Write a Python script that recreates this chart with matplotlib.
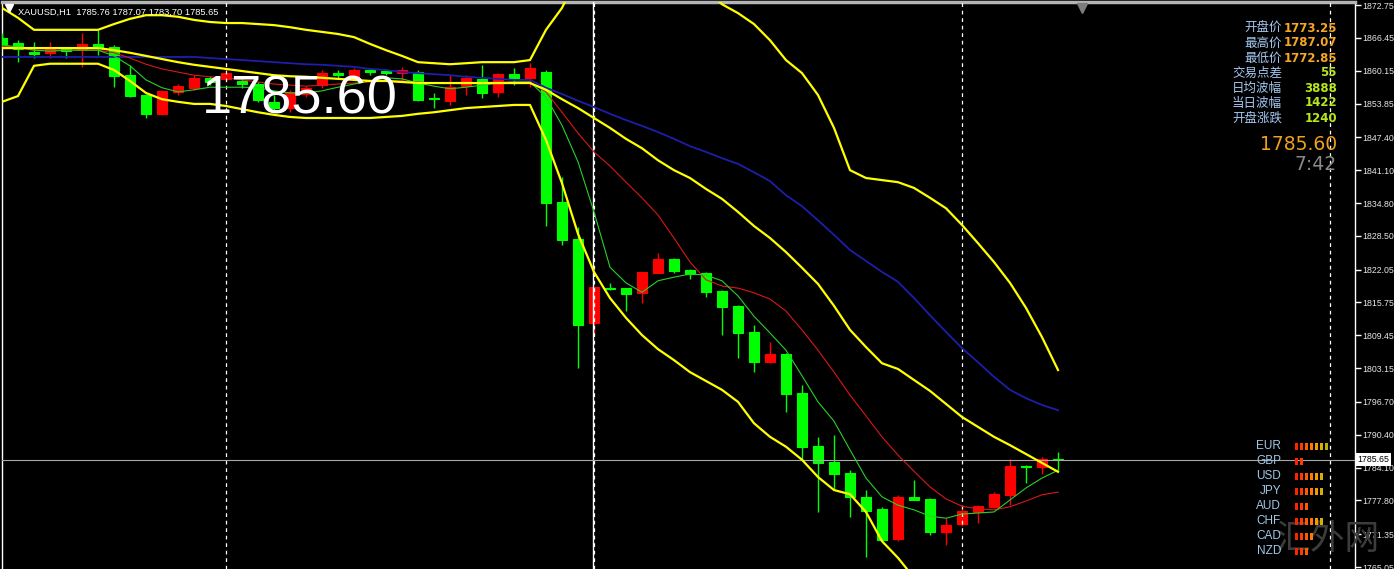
import matplotlib
matplotlib.use('Agg')
import matplotlib.pyplot as plt
import matplotlib.transforms as mtransforms
from matplotlib.patches import Rectangle
from matplotlib.lines import Line2D
import numpy as np

W, H = 1394, 569

# XAUUSD H1 bars, oldest first
opens = [1866.4, 1865.5, 1863.7, 1863.6, 1864.5, 1864.1, 1865.3, 1864.7, 1859.3, 1855.5,
         1851.9, 1856.1, 1856.9, 1858.8, 1858.6, 1858.2, 1857.6, 1854.2, 1853.0, 1855.7,
         1857.4, 1859.7, 1859.0, 1860.3, 1860.1, 1859.7, 1859.9, 1854.9, 1854.4, 1857.2,
         1858.6, 1856.1, 1859.5, 1858.8, 1859.9, 1835.0, 1827.9, 1811.8, 1818.5, 1818.5,
         1817.6, 1821.4, 1824.1, 1822.0, 1821.4, 1817.9, 1815.1, 1810.1, 1804.3, 1805.9,
         1798.4, 1788.2, 1785.2, 1783.1, 1778.5, 1776.2, 1770.4, 1778.5, 1778.1, 1771.8,
         1773.25, 1775.6, 1776.6, 1778.9, 1784.4, 1784.2, 1785.76]
highs = [1867.4, 1866.0, 1865.7, 1865.7, 1864.7, 1867.4, 1868.0, 1865.1, 1861.3, 1855.7,
         1856.5, 1857.6, 1859.3, 1859.2, 1860.7, 1858.8, 1858.0, 1855.5, 1856.5, 1857.2,
         1860.3, 1860.3, 1860.7, 1860.7, 1860.5, 1860.9, 1860.3, 1855.9, 1859.3, 1859.3,
         1861.3, 1859.7, 1860.7, 1861.6, 1860.3, 1839.8, 1830.2, 1818.8, 1819.5, 1818.6,
         1821.6, 1825.2, 1824.3, 1822.2, 1821.6, 1818.1, 1815.3, 1811.4, 1808.2, 1806.1,
         1799.9, 1790.0, 1790.3, 1783.6, 1779.8, 1776.5, 1778.9, 1781.7, 1778.3, 1774.4,
         1776.9, 1776.9, 1779.4, 1785.8, 1784.6, 1786.1, 1787.07]
lows = [1864.5, 1861.8, 1862.6, 1862.6, 1862.6, 1860.9, 1863.2, 1857.0, 1855.1, 1851.1,
        1851.7, 1855.5, 1856.5, 1857.4, 1858.0, 1856.9, 1854.2, 1852.6, 1852.3, 1855.1,
        1856.9, 1858.8, 1858.4, 1859.3, 1859.3, 1858.0, 1854.4, 1853.0, 1853.6, 1855.5,
        1854.9, 1855.1, 1857.4, 1857.0, 1830.4, 1826.8, 1803.2, 1809.5, 1818.1, 1814.1,
        1815.6, 1821.4, 1821.4, 1820.2, 1816.8, 1809.5, 1805.1, 1802.4, 1804.1, 1794.8,
        1785.6, 1775.6, 1779.8, 1774.6, 1767.0, 1770.0, 1770.0, 1777.9, 1771.2, 1769.3,
        1772.85, 1773.5, 1776.4, 1776.9, 1781.2, 1782.9, 1783.70]
closes = [1865.3, 1864.3, 1863.4, 1864.5, 1863.9, 1865.3, 1864.7, 1859.2, 1855.3, 1851.9,
          1856.3, 1857.2, 1858.8, 1858.0, 1859.7, 1857.6, 1854.6, 1853.0, 1856.1, 1856.9,
          1859.7, 1859.3, 1860.3, 1859.9, 1859.7, 1860.3, 1854.6, 1854.7, 1857.0, 1858.8,
          1855.9, 1859.5, 1858.8, 1860.7, 1834.8, 1827.7, 1811.4, 1818.7, 1818.3, 1817.4,
          1821.6, 1824.1, 1821.8, 1821.2, 1817.8, 1814.9, 1809.9, 1804.3, 1805.9, 1798.2,
          1788.1, 1785.0, 1782.9, 1778.5, 1775.8, 1770.2, 1778.5, 1777.9, 1771.8, 1773.1,
          1775.8, 1776.7, 1779.0, 1784.4, 1784.2, 1785.8, 1785.65]

# moving averages
ma_fast = [1865.1, 1864.7, 1864.1, 1863.9, 1864.1, 1864.1, 1864.1, 1863.0, 1861.1, 1858.4,
           1856.9, 1856.1, 1856.5, 1857.0, 1857.0, 1857.0, 1856.9, 1856.3, 1855.9, 1855.9,
           1856.3, 1857.0, 1857.6, 1858.2, 1858.8, 1858.6, 1857.8, 1857.2, 1856.7, 1857.0,
           1857.4, 1857.8, 1858.0, 1858.0, 1855.1, 1849.7, 1842.7, 1833.1, 1822.5, 1819.5,
           1817.7, 1819.9, 1820.6, 1821.2, 1821.0, 1819.9, 1817.0, 1813.1, 1809.9, 1806.6,
           1801.7, 1796.7, 1793.0, 1787.5, 1782.1, 1778.5, 1776.9, 1776.0, 1774.8, 1774.4,
           1775.2, 1775.4, 1775.6, 1777.9, 1780.2, 1782.1, 1783.6]
ma_mid = [1864.9, 1864.5, 1864.1, 1864.1, 1864.1, 1864.1, 1864.1, 1863.6, 1862.6, 1861.4,
          1860.5, 1859.9, 1859.3, 1859.0, 1858.8, 1858.4, 1858.0, 1857.6, 1857.4, 1857.2,
          1857.4, 1857.6, 1857.8, 1858.0, 1858.2, 1858.2, 1858.0, 1857.8, 1857.8, 1857.8,
          1857.8, 1858.0, 1858.0, 1858.0, 1856.1, 1852.2, 1848.2, 1844.6, 1841.9, 1838.8,
          1835.8, 1832.5, 1828.1, 1823.5, 1820.1, 1818.9, 1818.5, 1817.6, 1816.4, 1814.1,
          1810.5, 1806.6, 1802.4, 1798.0, 1794.0, 1790.0, 1786.5, 1783.4, 1780.4, 1778.1,
          1776.7, 1776.2, 1776.0, 1776.6, 1777.7, 1778.9, 1779.4]
ma_slow = [1862.8, 1862.8, 1862.8, 1862.8, 1862.8, 1862.8, 1862.8, 1862.8, 1862.8, 1862.8,
           1862.8, 1862.8, 1862.8, 1862.6, 1862.4, 1862.2, 1862.0, 1861.8, 1861.6, 1861.4,
           1861.3, 1861.1, 1860.9, 1860.5, 1860.3, 1859.9, 1859.7, 1859.5, 1859.3, 1859.0,
           1858.8, 1858.6, 1858.4, 1858.4, 1856.9, 1855.7, 1854.4, 1853.2, 1851.9, 1850.7,
           1849.6, 1848.4, 1847.1, 1845.7, 1844.6, 1843.4, 1842.3, 1840.7, 1839.0, 1836.3,
           1834.2, 1831.5, 1828.7, 1825.8, 1823.7, 1821.6, 1819.7, 1816.6, 1813.3, 1810.1,
           1807.0, 1804.3, 1801.5, 1799.0, 1797.4, 1796.1, 1795.1]

# Bollinger bands
bb_upper = [1872.2, 1870.3, 1868.0, 1868.0, 1868.0, 1868.0, 1868.0, 1869.1, 1870.1, 1870.8,
            1870.8, 1870.5, 1869.9, 1869.5, 1869.3, 1869.3, 1869.1, 1868.9, 1868.5, 1868.0,
            1867.6, 1867.2, 1866.6, 1865.3, 1864.1, 1863.0, 1861.8, 1861.6, 1861.4, 1861.6,
            1861.8, 1861.8, 1861.8, 1862.2, 1868.0, 1872.2, 1878.5, 1882.3, 1884.2, 1885.2,
            1885.2, 1884.2, 1881.4, 1878.5, 1875.6, 1872.9, 1871.2, 1869.1, 1866.0, 1862.2,
            1859.7, 1855.5, 1849.2, 1841.1, 1839.6, 1839.2, 1838.8, 1837.7, 1835.8, 1833.8,
            1830.6, 1827.1, 1823.5, 1819.5, 1814.7, 1809.1, 1802.8]
bb_middle = [1864.5, 1864.5, 1864.5, 1864.5, 1864.5, 1864.5, 1864.5, 1864.1, 1863.6, 1863.0,
             1862.4, 1861.8, 1861.3, 1860.9, 1860.5, 1860.1, 1859.7, 1859.3, 1859.1, 1859.0,
             1858.8, 1858.6, 1858.4, 1858.2, 1858.2, 1858.0, 1857.8, 1857.8, 1857.8, 1857.8,
             1857.8, 1857.8, 1857.8, 1857.8, 1856.5, 1854.7, 1853.0, 1851.1, 1849.2, 1847.1,
             1845.3, 1843.0, 1841.1, 1839.6, 1837.5, 1835.6, 1833.1, 1830.4, 1828.1, 1825.4,
             1822.4, 1819.3, 1815.1, 1810.5, 1807.2, 1804.1, 1803.0, 1800.9, 1798.8, 1796.3,
             1793.8, 1791.9, 1790.0, 1788.4, 1786.7, 1785.0, 1783.3]
bb_lower = [1854.2, 1855.3, 1861.1, 1861.5, 1861.5, 1861.5, 1861.5, 1860.3, 1858.2, 1855.9,
            1854.7, 1854.2, 1853.8, 1853.8, 1853.4, 1852.8, 1852.2, 1851.7, 1851.3, 1851.1,
            1851.1, 1851.1, 1851.1, 1851.1, 1851.3, 1851.5, 1851.9, 1852.2, 1852.6, 1853.0,
            1853.2, 1853.4, 1853.6, 1853.6, 1846.9, 1838.6, 1828.9, 1821.6, 1816.6, 1812.8,
            1809.5, 1806.8, 1804.7, 1802.4, 1800.7, 1799.0, 1796.7, 1792.6, 1790.0, 1788.1,
            1785.6, 1782.3, 1779.8, 1779.0, 1775.6, 1770.0, 1766.8, 1763.0, 1759.7, 1756.8,
            1754.9, 1753.9, 1753.9, 1754.9, 1756.8, 1758.7, 1760.6]

price_ticks = [1872.75, 1866.45, 1860.15, 1853.85, 1847.40, 1841.10, 1834.80, 1828.50, 1822.05,
               1815.75, 1809.45, 1803.15, 1796.70, 1790.40, 1784.10, 1777.80, 1771.35, 1765.05]
day_breaks = [14, 37, 60, 83]
marker_bar = 36.94
last_price = 1785.65
bid_price = '1785.60'
bar_time_left = '7:42'
title = 'XAUUSD,H1  1785.76 1787.07 1783.70 1785.65'
watermark = '汇外网'

info_labels = ['开盘价', '最高价', '最低价', '交易点差', '日均波幅', '当日波幅', '开盘涨跌']
info_values = ['1773.25', '1787.07', '1772.85', '55', '3888', '1422', '1240']

currencies = ['EUR', 'GBP', 'USD', 'JPY', 'AUD', 'CHF', 'CAD', 'NZD']
strength = [7, 2, 6, 6, 3, 6, 4, 3]
strength_colors = ['#ff2200', '#ff3c00', '#ff5a00', '#ff7800', '#f39a00', '#d8ae00', '#b0b400']

SANS = ['Liberation Sans', 'DejaVu Sans']
CJK = ['Noto Sans CJK SC', 'DejaVu Sans']


def fx(x):
    return x / W


def fy(y):
    return 1 - y / H


fig = plt.figure(figsize=(W / 100, H / 100), dpi=100, facecolor='black')
ax = fig.add_axes([1.5 / W, 0, 1353 / W, 567 / H], facecolor='black')
ax.set_xlim(-0.03, 84.53)
ax.set_ylim(1764.67, 1873.33)

for side in ['left', 'right']:
    ax.spines[side].set_color('white')
    ax.spines[side].set_linewidth(1)
ax.spines['top'].set_color('#b4b4b4')
ax.spines['top'].set_linewidth(2.5)
ax.spines['bottom'].set_visible(False)

ax.set_xticks([])
ax.yaxis.tick_right()
ax.set_yticks(price_ticks)
ax.set_yticklabels([f'{v:.2f}' for v in price_ticks], fontsize=6.3, family=SANS, color='#e6e6e6')
ax.tick_params(axis='y', direction='out', length=4, width=1, color='white', pad=1.5)

# faint site watermark, bottom right
fig.text(fx(1328), fy(540), watermark, color='#3c3c3c', fontsize=25, family=CJK,
         ha='center', va='center', zorder=0.5)

# candles: red = rising, green = falling
idx = np.arange(len(opens))
o = np.array(opens)
h = np.array(highs)
l = np.array(lows)
c = np.array(closes)
cols = np.where(c > o, '#ff0000', '#00ff00')
ax.vlines(idx, l, h, colors=cols, lw=1, zorder=3)
ax.bar(idx, np.abs(c - o), bottom=np.minimum(o, c), width=0.68, color=cols,
       edgecolor=cols, lw=0.8, zorder=4)

# day separators and the vertical marker
for d in day_breaks:
    ax.axvline(d, color='white', lw=0.9, ls=(0, (3, 3)), zorder=5)
ax.axvline(marker_bar, color='white', lw=1, zorder=5)

ax.axhline(last_price, color='#a8a8a8', lw=0.8, zorder=5)

ax.plot(idx, ma_slow, color='#1e1eaa', lw=1.3, zorder=6)
ax.plot(idx, ma_mid, color='#d81818', lw=0.8, zorder=6)
ax.plot(idx, ma_fast, color='#28d028', lw=0.8, zorder=6)
for band in (bb_upper, bb_middle, bb_lower):
    ax.plot(idx, band, color='#ffff00', lw=1.6, zorder=7)

# chart shift marker at the top
top_tr = mtransforms.blended_transform_factory(ax.transData, ax.transAxes)
ax.plot([67.5], [0.99], marker='v', ms=7, color='#7c7c7c', transform=top_tr, clip_on=False, zorder=8)

# last price tag on the price scale
right_tr = mtransforms.blended_transform_factory(ax.transAxes, ax.transData)
ax.text(1.002, last_price, f'{last_price:.2f}', transform=right_tr, ha='left', va='center',
        fontsize=6.3, family=SANS, color='black', clip_on=False, zorder=10,
        bbox=dict(boxstyle='square,pad=0.25', fc='white', ec='none'))

# title
fig.add_artist(Line2D([fx(9)], [fy(8)], marker='v', ms=6, color='white', transform=fig.transFigure))
fig.text(fx(18), fy(15), title, color='white', fontsize=6.7, family=SANS, va='baseline')

# big bid price
fig.text(fx(300), fy(113), bid_price, color='white', fontsize=39, family='Liberation Sans',
         ha='center', va='baseline', zorder=20)

# info panel
for k, (lab, val) in enumerate(zip(info_labels, info_values)):
    y = 28 + 15 * k
    fig.text(fx(1282), fy(y), lab, color='#a4c8f0', fontsize=9, family=CJK, ha='right', va='center')
    vcol = '#f5a623' if k < 3 else '#b8e61e'
    fig.text(fx(1337), fy(y), val, color=vcol, fontsize=8.5, family='DejaVu Sans', weight='bold',
             ha='right', va='center')
fig.text(fx(1337), fy(150), bid_price, color='#f0a020', fontsize=13.5, family='DejaVu Sans',
         ha='right', va='baseline')
fig.text(fx(1337), fy(170), bar_time_left, color='#8a8a8a', fontsize=13.5, family='DejaVu Sans',
         ha='right', va='baseline')

# currency strength meter
for k, (cur, n) in enumerate(zip(currencies, strength)):
    y = 446 + 15 * k
    fig.text(fx(1281), fy(y), cur, color='#a0c8e8', fontsize=8.5, family='Liberation Sans',
             ha='right', va='center')
    for j in range(n):
        fig.add_artist(Rectangle((fx(1295 + 5 * j), fy(y + 3.5)), 3 / W, 7 / H,
                                 color=strength_colors[j], transform=fig.transFigure, lw=0))

fig.savefig('out.png', dpi=100, facecolor='black')
